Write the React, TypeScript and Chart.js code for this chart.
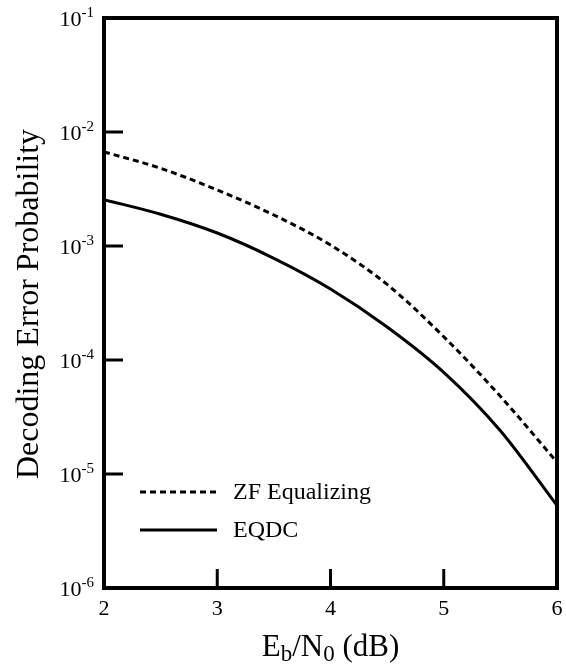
import React, { useEffect, useRef } from "react";
import { Chart, registerables } from "chart.js";

Chart.register(...registerables);

const ebn0 = [2, 2.5, 3, 3.5, 4, 4.5, 5, 5.5, 6];
const zfEqualizing = [6.7e-3, 4.8e-3, 3.1e-3, 1.87e-3, 1.02e-3, 4.6e-4, 1.6e-4, 4.8e-5, 1.27e-5];
const eqdc = [2.55e-3, 1.9e-3, 1.3e-3, 7.8e-4, 4.2e-4, 1.95e-4, 7.8e-5, 2.4e-5, 5.3e-6];
const seriesLabels = ["ZF Equalizing", "EQDC"];
const yTitle = "Decoding Error Probability";
const xTitleParts = [
  { t: "E", sub: false },
  { t: "b", sub: true },
  { t: "/N", sub: false },
  { t: "0", sub: true },
  { t: " (dB)", sub: false },
];

const FONT = "'Liberation Serif', 'Times New Roman', serif";

const decorPlugin = {
  id: "decor",
  afterDraw(chart: any) {
    const ctx = chart.ctx as CanvasRenderingContext2D;
    const { left, right, top, bottom } = chart.chartArea;
    const xs = chart.scales.x;
    const ys = chart.scales.y;
    ctx.save();
    ctx.strokeStyle = "#000";
    ctx.fillStyle = "#000";
    // ticks
    ctx.lineWidth = 3;
    const yTicks = ys.ticks
      .map((t: any) => t.value)
      .filter((v: number) => Math.abs(Math.log10(v) - Math.round(Math.log10(v))) < 1e-9);
    for (const v of yTicks) {
      const y = ys.getPixelForValue(v);
      ctx.beginPath();
      ctx.moveTo(left, y);
      ctx.lineTo(left + 19, y);
      ctx.stroke();
      // label
      const exp = String(Math.round(Math.log10(v)));
      ctx.font = `15px ${FONT}`;
      const ew = ctx.measureText(exp).width;
      ctx.textBaseline = "alphabetic";
      ctx.textAlign = "left";
      const xe = left - 10 - ew;
      ctx.fillText(exp, xe, y - 1);
      ctx.font = `22px ${FONT}`;
      const bw = ctx.measureText("10").width;
      ctx.fillText("10", xe - bw, y + 8);
    }
    for (const t of xs.ticks) {
      const v = t.value;
      const x = xs.getPixelForValue(v);
      if (v > xs.min && v < xs.max) {
        ctx.beginPath();
        ctx.moveTo(x, bottom);
        ctx.lineTo(x, bottom - 19);
        ctx.stroke();
      }
      ctx.font = `22px ${FONT}`;
      ctx.textAlign = "center";
      ctx.textBaseline = "alphabetic";
      ctx.fillText(String(v), x, bottom + 27);
    }
    // border
    ctx.lineWidth = 4;
    ctx.strokeRect(left, top, right - left, bottom - top);

    // legend
    chart.data.datasets.forEach((ds: any, i: number) => {
      const y = 492 + i * 38;
      ctx.lineWidth = ds.borderWidth;
      ctx.setLineDash(ds.borderDash || []);
      ctx.beginPath();
      ctx.moveTo(140, y);
      ctx.lineTo(217, y);
      ctx.stroke();
      ctx.setLineDash([]);
      ctx.font = `24px ${FONT}`;
      ctx.textAlign = "left";
      ctx.textBaseline = "middle";
      ctx.fillText(ds.label, 233, y + 1);
    });

    // y title
    ctx.save();
    ctx.translate(38, (top + bottom) / 2 + 1);
    ctx.rotate(-Math.PI / 2);
    ctx.font = `32px ${FONT}`;
    ctx.textAlign = "center";
    ctx.textBaseline = "alphabetic";
    ctx.fillText(yTitle, 0, 0);
    ctx.restore();

    // x title with subscripts
    const big = `31px ${FONT}`;
    const small = `23px ${FONT}`;
    let total = 0;
    for (const p of xTitleParts) {
      ctx.font = p.sub ? small : big;
      total += ctx.measureText(p.t).width;
    }
    let cx = (left + right) / 2 - total / 2;
    const base = 656;
    ctx.textAlign = "left";
    ctx.textBaseline = "alphabetic";
    for (const p of xTitleParts) {
      ctx.font = p.sub ? small : big;
      ctx.fillText(p.t, cx, p.sub ? base + 5 : base);
      cx += ctx.measureText(p.t).width;
    }
    ctx.restore();
  },
};

export default function App() {
  const ref = useRef<HTMLCanvasElement>(null);
  useEffect(() => {
    document.body.style.margin = "0";
    document.body.style.overflow = "hidden";
    const chart = new Chart(ref.current as HTMLCanvasElement, {
      type: "line",
      data: {
        datasets: [
          {
            label: seriesLabels[0],
            data: ebn0.map((x, i) => ({ x, y: zfEqualizing[i] })),
            borderColor: "#000",
            borderWidth: 3,
            borderDash: [6, 4],
            pointRadius: 0,
            fill: false,
            cubicInterpolationMode: "monotone",
          },
          {
            label: seriesLabels[1],
            data: ebn0.map((x, i) => ({ x, y: eqdc[i] })),
            borderColor: "#000",
            borderWidth: 3,
            pointRadius: 0,
            fill: false,
            cubicInterpolationMode: "monotone",
          },
        ],
      },
      options: {
        responsive: false,
        animation: false,
        layout: { padding: { left: 104, right: 9, top: 18, bottom: 80 } },
        plugins: { legend: { display: false }, tooltip: { enabled: false } },
        scales: {
          x: { type: "linear", min: 2, max: 6, display: false, ticks: { stepSize: 1 } },
          y: { type: "logarithmic", min: 1e-6, max: 1e-1, display: false },
        },
      },
      plugins: [decorPlugin],
    });
    return () => chart.destroy();
  }, []);
  return (
    <div style={{ width: 566, height: 668, background: "#fff" }}>
      <canvas ref={ref} width={566} height={668} />
    </div>
  );
}
